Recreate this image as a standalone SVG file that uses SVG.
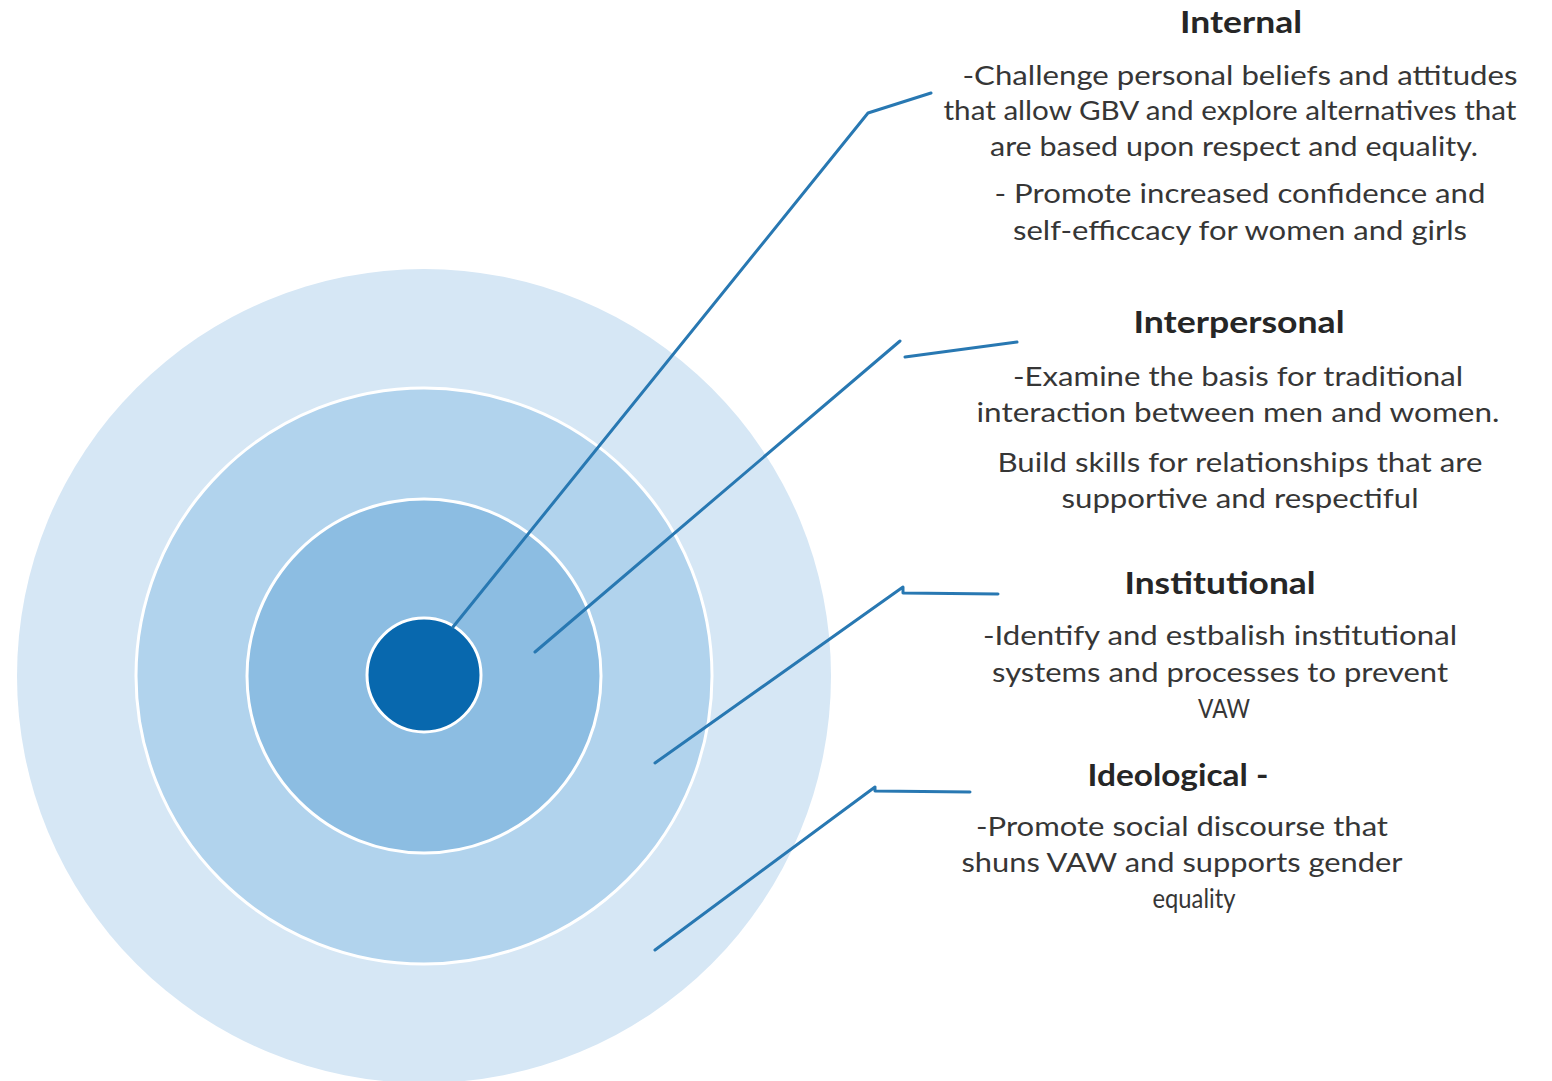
<svg xmlns="http://www.w3.org/2000/svg" width="1552" height="1081" viewBox="0 0 1552 1081">
<style>
.ring{stroke:#ffffff;stroke-width:3}
.conn{fill:none;stroke:#2878b2;stroke-width:3;stroke-linecap:round;stroke-linejoin:round}
.h{font-family:Lato,"Open Sans","Liberation Sans",sans-serif;font-weight:bold;font-size:31px;fill:#262626;text-anchor:middle}
.b{font-family:Lato,"Open Sans","Liberation Sans",sans-serif;font-size:26.5px;fill:#363636;text-anchor:middle}
</style>
<rect width="1552" height="1081" fill="#ffffff"/>
<g id="rings">
<circle id="ideological-ring" cx="424" cy="676" r="407" fill="#d6e7f5"/>
<circle id="institutional-ring" class="ring" cx="424" cy="676" r="288" fill="#b1d3ed"/>
<circle id="interpersonal-ring" class="ring" cx="424" cy="676" r="177" fill="#8cbde2"/>
<circle id="internal-ring" class="ring" cx="424" cy="675" r="57" fill="#0868ae"/>
</g>
<g id="connectors">
<polyline class="conn" points="453,627 868,113 931,93"/>
<polyline class="conn" points="535,652 900,341"/>
<polyline class="conn" points="905,357 1017,342"/>
<polyline class="conn" points="655,763 903,587 903,593 998,594"/>
<polyline class="conn" points="655,950 875,787 875,791 970,792"/>
</g>
<g id="internal">
<text class="h" x="1241" y="33" textLength="122" lengthAdjust="spacingAndGlyphs">Internal</text>
<text class="b" x="1240" y="85" textLength="555" lengthAdjust="spacingAndGlyphs">-Challenge personal beliefs and attitudes</text>
<text class="b" x="1230" y="120" textLength="573" lengthAdjust="spacingAndGlyphs">that allow GBV and explore alternatives that</text>
<text class="b" x="1234" y="156" textLength="488" lengthAdjust="spacingAndGlyphs">are based upon respect and equality.</text>
<text class="b" x="1240" y="203" textLength="491" lengthAdjust="spacingAndGlyphs">- Promote increased confidence and</text>
<text class="b" x="1240" y="240" textLength="454" lengthAdjust="spacingAndGlyphs">self-efficcacy for women and girls</text>
</g>
<g id="interpersonal">
<text class="h" x="1239" y="333" textLength="211" lengthAdjust="spacingAndGlyphs">Interpersonal</text>
<text class="b" x="1238" y="386" textLength="450" lengthAdjust="spacingAndGlyphs">-Examine the basis for traditional</text>
<text class="b" x="1238" y="422" textLength="523" lengthAdjust="spacingAndGlyphs">interaction between men and women.</text>
<text class="b" x="1240" y="472" textLength="485" lengthAdjust="spacingAndGlyphs">Build skills for relationships that are</text>
<text class="b" x="1240" y="508" textLength="357" lengthAdjust="spacingAndGlyphs">supportive and respectiful</text>
</g>
<g id="institutional">
<text class="h" x="1220" y="594" textLength="191" lengthAdjust="spacingAndGlyphs">Institutional</text>
<text class="b" x="1220" y="645" textLength="474" lengthAdjust="spacingAndGlyphs">-Identify and estbalish institutional</text>
<text class="b" x="1220" y="682" textLength="456" lengthAdjust="spacingAndGlyphs">systems and processes to prevent</text>
<text class="b" x="1224" y="718" textLength="52" lengthAdjust="spacingAndGlyphs">VAW</text>
</g>
<g id="ideological">
<text class="h" x="1178" y="786" textLength="181" lengthAdjust="spacingAndGlyphs">Ideological -</text>
<text class="b" x="1182" y="836" textLength="412" lengthAdjust="spacingAndGlyphs">-Promote social discourse that</text>
<text class="b" x="1182" y="872" textLength="441" lengthAdjust="spacingAndGlyphs">shuns VAW and supports gender</text>
<text class="b" x="1194" y="908" textLength="83" lengthAdjust="spacingAndGlyphs">equality</text>
</g>
</svg>
